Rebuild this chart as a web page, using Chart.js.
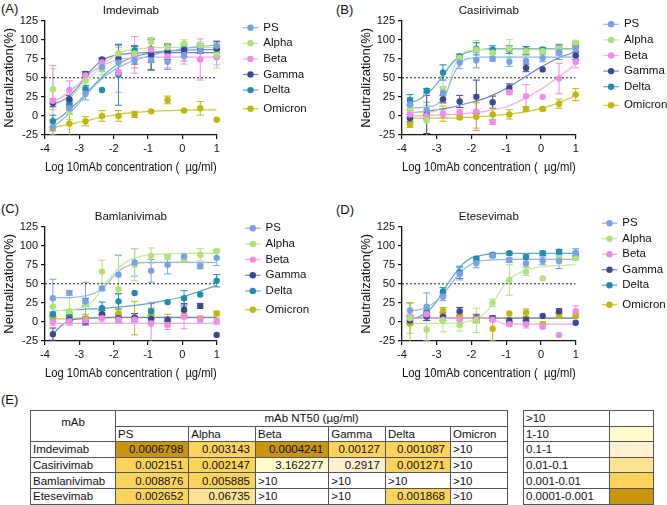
<!DOCTYPE html>
<html><head><meta charset="utf-8">
<script src="https://cdn.jsdelivr.net/npm/chart.js@4.4.1/dist/chart.umd.min.js"></script>
<style>
body{margin:0;width:667px;height:505px;background:#fff;position:relative;overflow:hidden;font-family:"Liberation Sans",Arial,sans-serif;color:#111}
.pl{position:absolute;font-size:13px;line-height:15px}
canvas{position:absolute}
table{position:absolute;border-collapse:collapse;table-layout:fixed;font-size:11.5px}
td{border:1px solid #555;padding:0 2px;height:14.6px;line-height:14px;white-space:nowrap;overflow:hidden}
td.n{text-align:right;padding-right:5px}
td.c{text-align:center}
</style></head><body>
<div class="pl" style="left:1px;top:1px">(A)</div>
<div class="pl" style="left:336px;top:2px">(B)</div>
<div class="pl" style="left:1px;top:201px">(C)</div>
<div class="pl" style="left:336px;top:202px">(D)</div>
<div class="pl" style="left:1px;top:392px">(E)</div>
<canvas id="cA" width="333" height="180" style="left:0;top:0"></canvas>
<canvas id="cB" width="310" height="180" style="left:357px;top:0"></canvas>
<canvas id="cC" width="333" height="180" style="left:0;top:205.6px"></canvas>
<canvas id="cD" width="310" height="180" style="left:357px;top:205.6px"></canvas>
<table id="nt50" style="left:30px;top:410px;width:477px"></table>
<table id="key" style="left:523px;top:410px;width:130px"></table>
<script>
// ---------- data ----------
const VARIANTS = ['PS','Alpha','Beta','Gamma','Delta','Omicron'];
const LOG_CONC = [-3.77,-3.29,-2.82,-2.34,-1.86,-1.39,-0.91,-0.43,0.05,0.52,1.0];
const FIT_X = [-3.77,-3.5,-3.25,-3.0,-2.75,-2.5,-2.25,-2.0,-1.75,-1.5,-1.0,-0.5,0,0.5,1.0];
const X_TICKS = [-4,-3,-2,-1,0,1];
const Y_TICKS = [-25,0,25,50,75,100,125];
const CUTOFF_X = [-4,1];
const CUTOFF = 50;

// Imdevimab (A)
const IMDEVIMAB_MEAN = [
  [-15,10,29,64,70,73,73,71,80,85,92],
  [35,5,46,62,82,82,97,90,95,92,80],
  [20,34,53,70,57,80,87,78,78,74,77],
  [17,22,55,74,75,80,80,84,86,87,88],
  [-7,14,35,34,54,86,80,85,88,88,88],
  [-16,-10,-7,0,0,2,6,21,7,10,-5]];
const IMDEVIMAB_ERR = [
  [10,8,8,6,10,10,12,10,8,10,5],
  [27,10,8,8,8,8,6,5,5,5,17],
  [46,12,5,4,26,24,15,15,10,27,10],
  [5,5,3,2,18,12,20,10,8,5,10],
  [8,6,5,0,40,5,10,8,5,5,5],
  [4,18,6,7,7,4,0,5,0,9,0]];
const IMDEVIMAB_FIT = [
  [-14,-5,5,17,30,42,52,60,66,71,78,84,88,91,93],
  [14,19,26,36,47,59,70,78,84,87,89,90,90,90,90],
  [19,25,33,43,53,62,68,72,75,76,77,77,77,77,77],
  [16,20,28,40,55,67,75,79,81,82,83,83,83,83,83],
  [-8,0,10,20,32,44,55,64,71,76,82,85,86,87,87],
  [-15,-13,-11,-8,-6,-3,-1,1,3,4,6,7,7.5,8,8]];

// Casirivimab (B)
const CASIRIVIMAB_MEAN = [
  [15,8,30,70,73,75,71,72,76,84,88],
  [10,-6,35,76,87,83,88,85,85,88,96],
  [2,0,3,5,6,-8,31,26,25,49,71],
  [-3,2,22,19,25,18,37,63,61,85,79],
  [21,33,57,78,88,87,87,86,87,88,93],
  [-11,-3,3,-2,-1,2,2,9,9,16,28]];
const CASIRIVIMAB_ERR = [
  [8,10,8,8,10,3,6,8,5,10,5],
  [5,20,17,5,12,5,12,5,3,5,3],
  [5,5,5,3,22,3,3,15,0,20,8],
  [5,25,5,8,22,8,5,5,0,5,5],
  [7,3,10,3,8,5,5,5,3,5,3],
  [4,0,10,2,18,8,6,3,2,6,8]];
const CASIRIVIMAB_FIT = [
  [11,11,12,15,28,56,72,76,77,77,77,77,77,77,77],
  [5,5,5,7,25,65,82,86,87,87,87,87,87,87,87],
  [0,0,1,1,2,2,3,4,5,7,12,22,35,51,68],
  [4,5,6,8,10,12,15,18,21,25,36,50,64,76,84],
  [17,22,30,42,58,72,81,85,87,88,88,88,88,88,88],
  [-3,-3,-3,-3,-3,-3,-2,-2,-1,0,2,5,10,17,27]];

// Bamlanivimab (C)
const BAMLANIVIMAB_MEAN = [
  [31,38,27,44,62,78,67,75,86,73,84],
  [20,14,25,66,43,75,87,85,82,88,93],
  [0,1,2,5,3,3,-2,-4,7,3,1],
  [-16,3,1,10,5,6,4,3,16,21,-17],
  [10,7,26,18,27,38,14,26,31,36,54],
  [3,5,5,8,11,5,13,2,9,4,11]];
const BAMLANIVIMAB_ERR = [
  [25,3,25,3,25,18,15,12,0,3,10],
  [10,18,5,15,45,21,10,3,3,8,2],
  [5,5,5,5,5,3,28,6,16,5,4],
  [8,5,5,5,5,5,5,3,8,3,0],
  [3,5,5,8,10,0,10,0,10,0,8],
  [5,5,5,5,5,22,5,8,5,0,3]];
const BAMLANIVIMAB_FIT = [
  [32,32,32,33,35,39,47,60,70,75,78,78,78,78,78],
  [15,15,16,18,22,33,50,64,75,82,88,89,90,90,90],
  [-2,-2,-2,-2,-2,-2,-2,-2,-2,-2,-2,-2,-2,-2,-2],
  [-16,-4,2,4,5,5.5,6,6,6,6,6,6,6,6,6],
  [15,15,16,16,17,17,18,19,20,21,24,28,33,40,48],
  [4,4,4.5,5,5,5,5,5.5,5.5,5.5,5.5,5.5,5.5,5.5,5.5]];

// Etesevimab (D)
const ETESEVIMAB_MEAN = [
  [15,20,33,63,77,87,81,77,80,80,91],
  [5,-10,2,-4,2,25,55,66,57,84,84],
  [5,10,3,3,4,3,-3,-3,-6,-17,14],
  [2,7,7,14,5,5,2,3,8,14,-1],
  [3,13,40,65,83,88,90,85,90,92,87],
  [-2,12,14,7,4,-9,11,12,-3,9,8]];
const ETESEVIMAB_ERR = [
  [10,18,5,8,6,3,3,5,5,10,5],
  [20,15,15,8,16,5,20,5,0,3,3],
  [5,5,5,5,5,3,3,5,3,0,7],
  [5,5,5,5,5,3,3,3,0,3,0],
  [5,5,5,8,3,2,2,3,3,3,3],
  [27,5,5,5,5,16,0,5,3,3,3]];
const ETESEVIMAB_FIT = [
  [15,16,20,28,40,55,68,76,80,81,82,82,82,82,82],
  [-2,-2,-2,-2,-2,-1.5,-1,2,7,17,52,67,72,74,75],
  [5,5,5,5,5,5,5,5,5,5,-3,-3,-3,-3,-3],
  [5,5,5,5,5,5,5,5,5,5,5,5,5,5,5],
  [3,7,14,27,45,62,76,84,87,89,90,90,90,90,90],
  [5,5,5,5,5,5,5,5,5,5,5,5,5,5,5]];

// Table (E)
const MABS = ['Imdevimab','Casirivimab','Bamlanivimab','Etesevimab'];
const NT50_IMDEVIMAB = ['0.0006798','0.003143','0.0004241','0.00127','0.001087','>10'];
const NT50_CASIRIVIMAB = ['0.002151','0.002147','3.162277','0.2917','0.001271','>10'];
const NT50_BAMLANIVIMAB = ['0.008876','0.005885','>10','>10','>10','>10'];
const NT50_ETESEVIMAB = ['0.002652','0.06735','>10','>10','0.001868','>10'];
const NT50_BINS = ['>10','1-10','0.1-1','0.01-0.1','0.001-0.01','0.0001-0.001'];

// ---------- styles ----------
const MARK_COLORS = ['#78a2e4','#b0e27a','#f08ce8','#3b4993','#1f8cb0','#bdb80a'];
const LINE_COLORS = ['#92b5ec','#c2ea98','#f4a8ee','#7883bd','#5fa9c6','#cdc83a'];
const BIN_COLORS = ['#ffffff','#fffbcc','#fff0d2','#fde293','#fdd35c','#c9950f'];
const FONT = "'Liberation Sans', Arial, sans-serif";
Chart.defaults.font.family = FONT;
Chart.defaults.color = '#111';

const errorBars = {
  id: 'errorBars',
  beforeDatasetsDraw(chart) {
    const {ctx, chartArea: a, scales: {x, y}} = chart;
    ctx.save();
    ctx.beginPath();
    ctx.rect(a.left - 6, a.top - 6, a.right - a.left + 12, a.bottom - a.top + 6);
    ctx.clip();
    chart.data.datasets.forEach(ds => {
      if (!ds.errors) return;
      ctx.strokeStyle = ds.borderColor;
      ctx.lineWidth = 1;
      ds.data.forEach((p, j) => {
        const e = ds.errors[j];
        if (!e) return;
        const px = x.getPixelForValue(p.x);
        const y1 = y.getPixelForValue(p.y + e), y2 = y.getPixelForValue(p.y - e);
        ctx.beginPath();
        ctx.moveTo(px, y1); ctx.lineTo(px, y2);
        ctx.moveTo(px - 3.5, y1); ctx.lineTo(px + 3.5, y1);
        ctx.moveTo(px - 3.5, y2); ctx.lineTo(px + 3.5, y2);
        ctx.stroke();
      });
    });
    ctx.restore();
  }
};

const seriesLegend = {
  id: 'seriesLegend',
  afterDraw(chart, args, opts) {
    const ctx = chart.ctx;
    ctx.save();
    ctx.font = '11.5px ' + FONT;
    ctx.textBaseline = 'middle';
    ctx.fillStyle = '#111';
    chart.data.datasets.forEach(ds => {
      if (ds.legendIdx === undefined) return;
      const i = ds.legendIdx;
      const y = opts.y0 + i * opts.gap + (i === VARIANTS.length - 1 ? opts.extra : 0);
      ctx.strokeStyle = LINE_COLORS[i];
      ctx.lineWidth = 1.2;
      ctx.beginPath(); ctx.moveTo(opts.x, y); ctx.lineTo(opts.x + 15.6, y); ctx.stroke();
      ctx.fillStyle = MARK_COLORS[i];
      ctx.beginPath(); ctx.arc(opts.x + 7.8, y, 3.2, 0, Math.PI * 2); ctx.fill();
      ctx.fillStyle = '#111';
      ctx.fillText(ds.label, opts.x + 20.6, y);
    });
    ctx.restore();
  }
};

function makePanel(id, title, means, errs, fits, padRight, leg) {
  const datasets = [];
  datasets.push({type: 'line', label: 'cutoff', data: CUTOFF_X.map(x => ({x, y: CUTOFF})),
    borderColor: '#222', borderWidth: 1, borderDash: [2, 2], pointRadius: 0, order: 10});
  VARIANTS.forEach((v, i) => {
    datasets.push({type: 'line', label: v + ' fit', data: FIT_X.map((x, j) => ({x, y: fits[i][j]})),
      borderColor: LINE_COLORS[i], borderWidth: 1.2, pointRadius: 0, cubicInterpolationMode: 'monotone', order: 5});
  });
  VARIANTS.forEach((v, i) => {
    datasets.push({type: 'scatter', label: v, legendIdx: i, errors: errs[i],
      data: LOG_CONC.map((x, j) => ({x, y: means[i][j]})),
      pointRadius: 3.2, pointHoverRadius: 3.2, backgroundColor: MARK_COLORS[i], borderColor: MARK_COLORS[i],
      borderWidth: 0, clip: false, order: 1});
  });
  const axisCommon = {
    grid: {drawOnChartArea: false, drawTicks: true, tickLength: 4, color: '#111', lineWidth: 1.2},
    border: {color: '#111', width: 1.3},
  };
  new Chart(document.getElementById(id), {
    type: 'scatter',
    data: {datasets},
    options: {
      responsive: false, animation: false, events: [],
      layout: {padding: {left: 0, right: padRight, top: 0, bottom: 0}},
      plugins: {
        legend: {display: false}, tooltip: {enabled: false},
        title: {display: true, text: title, fullSize: false, color: '#111',
          font: {size: 11.5, weight: 'normal'}, padding: {top: 4, bottom: 2.8}},
        seriesLegend: leg
      },
      scales: {
        x: Object.assign({type: 'linear', min: -4, max: 1,
          afterBuildTicks: s => { s.ticks = X_TICKS.map(value => ({value})); },
          ticks: {font: {size: 11}, color: '#111', padding: 3, maxRotation: 0, autoSkip: false},
          title: {display: true, text: 'Log 10mAb concentration (  µg/ml)', color: '#111',
            font: {size: 12}, padding: {top: 0, bottom: 5}},
          afterFit: s => { s.height = 45; }}, axisCommon),
        y: Object.assign({type: 'linear', min: -25, max: 125,
          afterBuildTicks: s => { s.ticks = Y_TICKS.map(value => ({value})); },
          ticks: {font: {size: 11}, color: '#111', padding: 3},
          title: {display: true, text: 'Neutralization(%)', color: '#111',
            font: {size: 13}, padding: {top: 2, bottom: 0}},
          afterFit: s => { s.width = 45; }}, axisCommon)
      }
    },
    plugins: [errorBars, seriesLegend]
  });
}

makePanel('cA', 'Imdevimab', IMDEVIMAB_MEAN, IMDEVIMAB_ERR, IMDEVIMAB_FIT, 116.3,
  {x: 242.7, y0: 27.7, gap: 15.6, extra: 3});
makePanel('cB', 'Casirivimab', CASIRIVIMAB_MEAN, CASIRIVIMAB_ERR, CASIRIVIMAB_FIT, 91.3,
  {x: 246.3, y0: 24.3, gap: 15.6, extra: 3});
makePanel('cC', 'Bamlanivimab', BAMLANIVIMAB_MEAN, BAMLANIVIMAB_ERR, BAMLANIVIMAB_FIT, 116.3,
  {x: 245, y0: 22.2, gap: 15.7, extra: 3});
makePanel('cD', 'Etesevimab', ETESEVIMAB_MEAN, ETESEVIMAB_ERR, ETESEVIMAB_FIT, 91.3,
  {x: 244.7, y0: 17.2, gap: 15.5, extra: 4});

// ---------- table ----------
function binIndex(s) {
  if (s.charAt(0) === '>') return 0;
  const v = parseFloat(s);
  if (v >= 1) return 1;
  if (v >= 0.1) return 2;
  if (v >= 0.01) return 3;
  if (v >= 0.001) return 4;
  return 5;
}
const COL_W = [85, 73.3, 66.7, 73.3, 56.7, 65, 57];
const rows = [NT50_IMDEVIMAB, NT50_CASIRIVIMAB, NT50_BAMLANIVIMAB, NT50_ETESEVIMAB];
let html = '<colgroup>' + COL_W.map(w => '<col style="width:' + w + 'px">').join('') + '</colgroup>';
html += '<tr><td class="c" rowspan="2" style="vertical-align:top;padding-top:4px">mAb</td><td class="c" colspan="6">mAb NT50 (µg/ml)</td></tr>';
html += '<tr>' + VARIANTS.map(v => '<td>' + v + '</td>').join('') + '</tr>';
rows.forEach((r, i) => {
  html += '<tr><td>' + MABS[i] + '</td>' + r.map(s => {
    const b = binIndex(s);
    return '<td class="' + (b ? 'n' : '') + '" style="background:' + BIN_COLORS[b] + '">' + s + '</td>';
  }).join('') + '</tr>';
});
document.getElementById('nt50').innerHTML = html;
let key = '<colgroup><col style="width:86px"><col style="width:44px"></colgroup>';
NT50_BINS.forEach((b, i) => {
  key += '<tr><td>' + b + '</td><td style="background:' + BIN_COLORS[i] + '"></td></tr>';
});
document.getElementById('key').innerHTML = key;
</script>
</body></html>
